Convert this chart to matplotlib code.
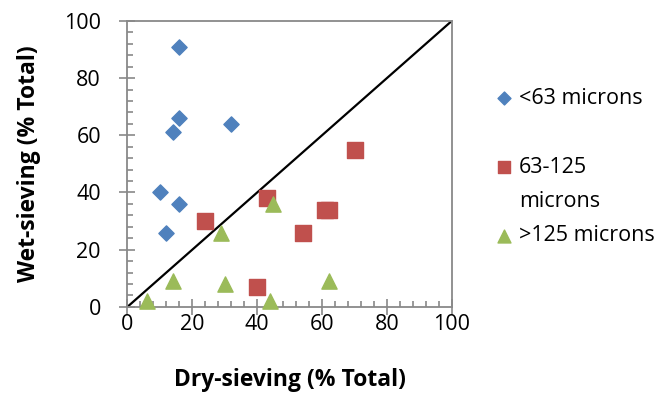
import matplotlib.pyplot as plt
from matplotlib.ticker import MultipleLocator
from matplotlib.lines import Line2D

plt.rcParams['font.family'] = ['Open Sans', 'DejaVu Sans']

# <63 microns
fine_dry = [16, 16, 14, 32, 10, 16, 12]
fine_wet = [91, 66, 61, 64, 40, 36, 26]

# 63-125 microns
mid_dry = [24, 43, 70, 61, 62, 54, 40]
mid_wet = [30, 38, 55, 34, 34, 26, 7]

# >125 microns
coarse_dry = [45, 29, 14, 30, 44, 62, 6]
coarse_wet = [36, 26, 9, 8, 2, 9, 2]

one_to_one = [0, 100]

fig = plt.figure(figsize=(6.65, 4.17), dpi=100)
ax = fig.add_axes([0.1915, 0.264, 0.488, 0.686])

ax.plot(one_to_one, one_to_one, color='black', lw=1.6, zorder=2)
h1 = ax.scatter(fine_dry, fine_wet, marker='D', s=60, color='#4F81BD', zorder=3, clip_on=False)
h2 = ax.scatter(mid_dry, mid_wet, marker='s', s=120, color='#C0504D', zorder=3, clip_on=False)
h3 = ax.scatter(coarse_dry, coarse_wet, marker='^', s=120, color='#9BBB59', zorder=3, clip_on=False)

ax.set_xlim(0, 100)
ax.set_ylim(0, 100)
ax.xaxis.set_major_locator(MultipleLocator(20))
ax.yaxis.set_major_locator(MultipleLocator(20))
ax.xaxis.set_minor_locator(MultipleLocator(4))
ax.yaxis.set_minor_locator(MultipleLocator(4))
ax.tick_params(which='major', direction='inout', length=12, width=1.2, color='#898989', labelsize=15.5)
ax.tick_params(axis='x', which='major', pad=-1)
ax.tick_params(axis='y', which='major', pad=13)
ax.tick_params(which='minor', direction='in', length=4, width=1.2, color='#898989')
for s in ax.spines.values():
    s.set_color('#898989')
    s.set_linewidth(1.3)

ax.set_xlabel('Dry-sieving (% Total)', fontsize=16.5, fontweight='bold')
ax.set_ylabel('Wet-sieving (% Total)', fontsize=16.5, fontweight='bold')
ax.xaxis.set_label_coords(0.5, -0.215)
ax.yaxis.set_label_coords(-0.265, 0.5)

blank = Line2D([], [], linestyle='none')
leg = ax.legend([h1, blank, h2, blank, h3],
                ['<63 microns', '', '63-125', 'microns', '>125 microns'],
                loc='upper left', bbox_to_anchor=(1.13, 0.765), frameon=False, fontsize=15.5,
                handletextpad=0.25, labelspacing=0.62, borderaxespad=0, handlelength=0.9,
                markerscale=0.85, borderpad=0)

fig.savefig('out.png', dpi=100)
